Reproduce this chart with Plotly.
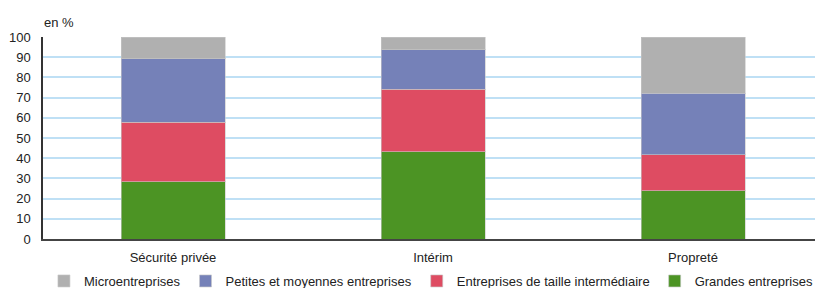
import plotly.graph_objects as go

categories = ["Sécurité privée", "Intérim", "Propreté"]
series_names = ["Grandes entreprises", "Entreprises de taille intermédiaire",
                "Petites et moyennes entreprises", "Microentreprises"]
grandes = [28.4, 43.3, 23.8]
eti = [29.3, 30.9, 17.8]
pme = [31.5, 19.5, 30.6]
micro = [10.8, 6.3, 27.8]
colors = ["#4c9424", "#de4c62", "#7581b8", "#b0b0b0"]
y_ticks = list(range(0, 101, 10))

fig = go.Figure()
for name, vals, col in zip(series_names, [grandes, eti, pme, micro], colors):
    fig.add_trace(go.Bar(
        x=categories, y=vals, name=name,
        marker=dict(color=col, line=dict(color="rgba(200,200,200,0.6)", width=1)),
        width=0.4,
    ))

# page body has an 8px default margin, so the figure is 815x280
fig.update_layout(
    barmode="stack",
    width=815, height=280,
    margin=dict(l=35, r=0, t=29, b=49, autoexpand=False),
    paper_bgcolor="white", plot_bgcolor="white",
    font=dict(family="Liberation Sans, Arial, sans-serif", size=13, color="#222222"),
    showlegend=True,
    legend=dict(orientation="h", traceorder="reversed", x=0.498, xanchor="center",
                y=-0.208, yanchor="middle", font=dict(size=13),
                itemwidth=30, tracegroupgap=0),
    xaxis=dict(showgrid=False, showline=True, linecolor="#444444", linewidth=1.5,
               ticks="", tickfont=dict(size=13), automargin=False,
               ticklabelstandoff=6),
    yaxis=dict(range=[0, 100], tickvals=y_ticks, showgrid=True, gridcolor="#bfe0f5",
               gridwidth=1.5, showline=True, linecolor="#333333", linewidth=1.5,
               ticks="", zeroline=False, tickfont=dict(size=13), automargin=False,
               ticklabelstandoff=8),
    annotations=[dict(text="en %", xref="paper", yref="paper", x=0, y=1,
                      xanchor="left", yanchor="bottom", yshift=5, xshift=-1,
                      showarrow=False, font=dict(size=13))],
)

fig.write_html("out.html")
